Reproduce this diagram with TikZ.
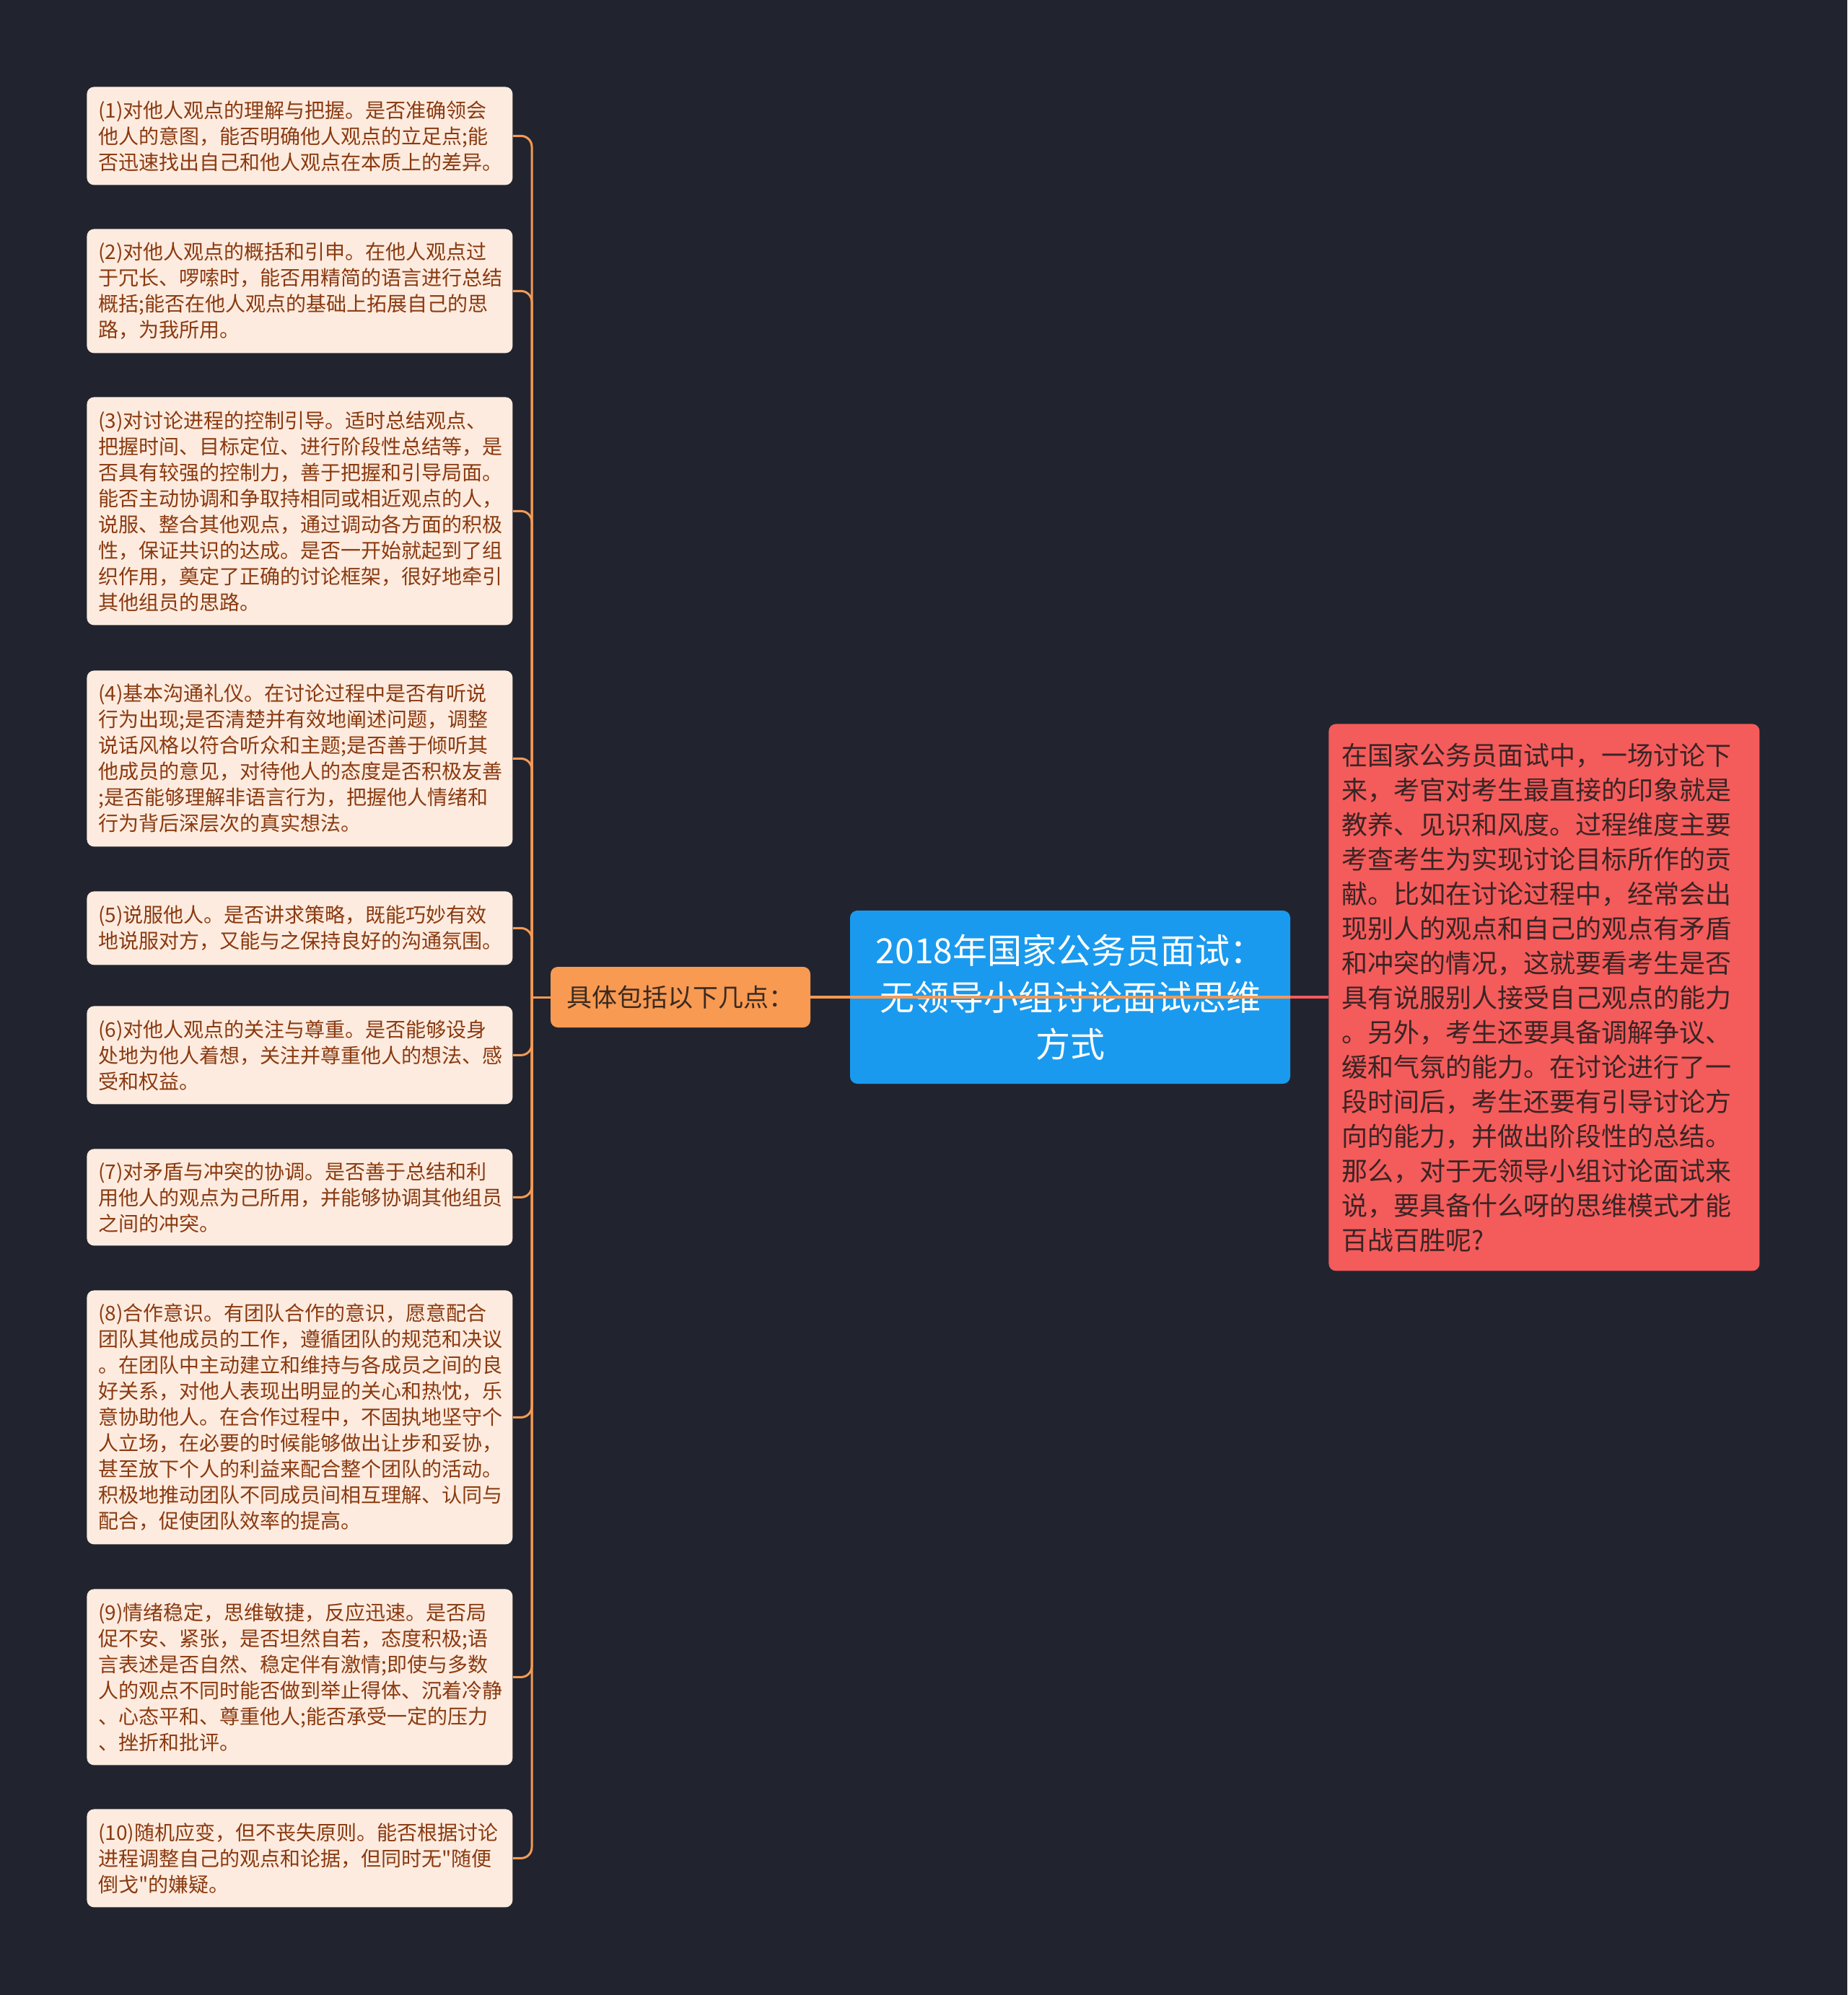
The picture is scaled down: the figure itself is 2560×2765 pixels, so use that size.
\documentclass[tikz,border=0pt]{standalone}
\usepackage{fontspec}
\setmainfont{Noto Sans CJK SC}[Ligatures=TeXOff]
\definecolor{bg}{HTML}{21242F}
\definecolor{leaffill}{HTML}{FDEBDF}
\definecolor{leaftext}{HTML}{8A3A10}
\definecolor{linecol}{HTML}{F39A55}
\definecolor{orangefill}{HTML}{F89A52}
\definecolor{orangetext}{HTML}{3A2A20}
\definecolor{bluefill}{HTML}{1A9AEE}
\definecolor{redfill}{HTML}{F45B5B}
\definecolor{redtext}{HTML}{3A2424}
\definecolor{redline}{HTML}{F45B5B}
\begin{document}
\begin{tikzpicture}[x=0.5pt,y=-0.5pt,
  leaf/.style={fill=leaffill, rounded corners=5pt, text=leaftext,
    font=\fontsize{14pt}{18pt}\selectfont, align=left, text width=279pt,
    inner sep=0pt, minimum width=295pt, anchor=north west},
  branch/.style={draw=linecol, line width=1.5pt, rounded corners=7.5pt},
  topicbox/.style={fill=orangefill, rounded corners=5pt, text=orangetext,
    font=\fontsize{17.5pt}{21pt}\selectfont, inner sep=0pt,
    minimum width=180pt, minimum height=42pt},
  rootbox/.style={fill=bluefill, rounded corners=5pt, text=white,
    font=\fontsize{24pt}{32.5pt}\selectfont, align=center, inner sep=0pt,
    minimum width=305pt, minimum height=120pt},
  notebox/.style={fill=redfill, rounded corners=5pt, text=redtext,
    font=\fontsize{18pt}{24pt}\selectfont, align=left, text width=280pt,
    inner sep=0pt, minimum width=298.5pt, minimum height=379pt, anchor=north west}]
\fill[bg] (0,0) rectangle (2560,2765);
\useasboundingbox (0,0) rectangle (2560,2765);

\node[leaf, minimum height=68pt] (l1) at (120,120) {(1)对他人观点的理解与把握。是否准确领会\\
他人的意图，能否明确他人观点的立足点;能\\
否迅速找出自己和他人观点在本质上的差异。};

\node[leaf, minimum height=86pt] (l2) at (120,317) {(2)对他人观点的概括和引申。在他人观点过\\
于冗长、啰嗦时，能否用精简的语言进行总结\\
概括;能否在他人观点的基础上拓展自己的思\\
路，为我所用。};

\node[leaf, minimum height=158pt] (l3) at (120,550) {(3)对讨论进程的控制引导。适时总结观点、\\
把握时间、目标定位、进行阶段性总结等，是\\
否具有较强的控制力，善于把握和引导局面。\\
能否主动协调和争取持相同或相近观点的人，\\
说服、整合其他观点，通过调动各方面的积极\\
性，保证共识的达成。是否一开始就起到了组\\
织作用，奠定了正确的讨论框架，很好地牵引\\
其他组员的思路。};

\node[leaf, minimum height=122pt] (l4) at (120,929) {(4)基本沟通礼仪。在讨论过程中是否有听说\\
行为出现;是否清楚并有效地阐述问题，调整\\
说话风格以符合听众和主题;是否善于倾听其\\
他成员的意见，对待他人的态度是否积极友善\\
;是否能够理解非语言行为，把握他人情绪和\\
行为背后深层次的真实想法。};

\node[leaf, minimum height=51pt] (l5) at (120,1235) {(5)说服他人。是否讲求策略，既能巧妙有效\\
地说服对方，又能与之保持良好的沟通氛围。};

\node[leaf, minimum height=68pt] (l6) at (120,1394) {(6)对他人观点的关注与尊重。是否能够设身\\
处地为他人着想，关注并尊重他人的想法、感\\
受和权益。};

\node[leaf, minimum height=67pt] (l7) at (120,1592) {(7)对矛盾与冲突的协调。是否善于总结和利\\
用他人的观点为己所用，并能够协调其他组员\\
之间的冲突。};

\node[leaf, minimum height=176pt] (l8) at (120,1788) {(8)合作意识。有团队合作的意识，愿意配合\\
团队其他成员的工作，遵循团队的规范和决议\\
。在团队中主动建立和维持与各成员之间的良\\
好关系，对他人表现出明显的关心和热忱，乐\\
意协助他人。在合作过程中，不固执地坚守个\\
人立场，在必要的时候能够做出让步和妥协，\\
甚至放下个人的利益来配合整个团队的活动。\\
积极地推动团队不同成员间相互理解、认同与\\
配合，促使团队效率的提高。};

\node[leaf, minimum height=122pt] (l9) at (120,2202) {(9)情绪稳定，思维敏捷，反应迅速。是否局\\
促不安、紧张，是否坦然自若，态度积极;语\\
言表述是否自然、稳定伴有激情;即使与多数\\
人的观点不同时能否做到举止得体、沉着冷静\\
、心态平和、尊重他人;能否承受一定的压力\\
、挫折和批评。};

\node[leaf, minimum height=68pt] (l10) at (120,2507) {(10)随机应变，但不丧失原则。能否根据讨论\\
进程调整自己的观点和论据，但同时无"随便\\
倒戈"的嫌疑。};

\node[topicbox] (ob) at (943,1382) {具体包括以下几点：};

\node[rootbox] (root) at (1483,1382) {2018年国家公务员面试：\\无领导小组讨论面试思维\\方式};

\node[notebox] (note) at (1841,1003) {在国家公务员面试中，一场讨论下\\
来，考官对考生最直接的印象就是\\
教养、见识和风度。过程维度主要\\
考查考生为实现讨论目标所作的贡\\
献。比如在讨论过程中，经常会出\\
现别人的观点和自己的观点有矛盾\\
和冲突的情况，这就要看考生是否\\
具有说服别人接受自己观点的能力\\
。另外，考生还要具备调解争议、\\
缓和气氛的能力。在讨论进行了一\\
段时间后，考生还要有引导讨论方\\
向的能力，并做出阶段性的总结。\\
那么，对于无领导小组讨论面试来\\
说，要具备什么呀的思维模式才能\\
百战百胜呢?};

\coordinate (trunk) at (737,1382);
\draw[branch] (ob.west) -- (trunk);
\foreach \i in {1,...,10} {
  \draw[branch] (trunk) |- (l\i.east);
}
\draw[draw=redline, line width=2pt] (root.east) -- (note.west |- root.east);
\draw[draw=linecol, line width=2pt] (ob.east) -- (root.east);
\end{tikzpicture}
\end{document}
